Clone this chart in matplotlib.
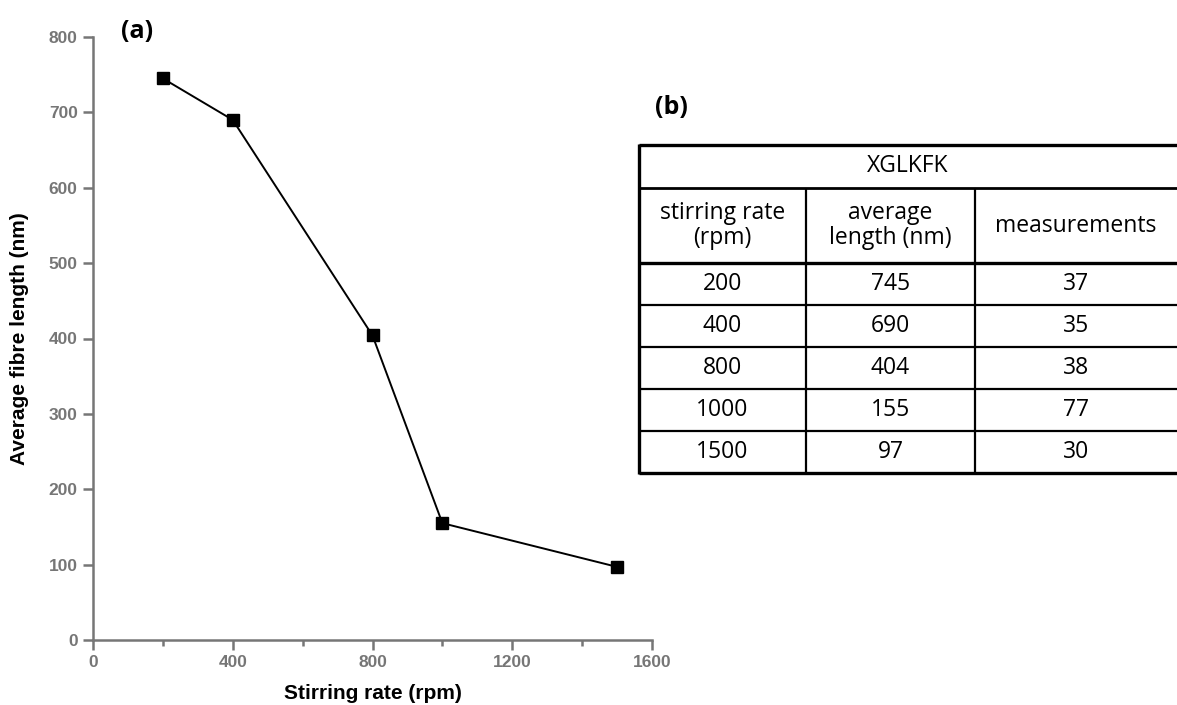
import matplotlib
matplotlib.use("Agg")
import matplotlib.pyplot as plt
from matplotlib.lines import Line2D

# ---- data ----
stirring_rate = [200, 400, 800, 1000, 1500]
avg_length = [745, 690, 404, 155, 97]
measurements = [37, 35, 38, 77, 30]
x_ticks = [0, 400, 800, 1200, 1600]
y_ticks = [0, 100, 200, 300, 400, 500, 600, 700, 800]
table_title = "XGLKFK"
col_headers = ["stirring rate\n(rpm)", "average\nlength (nm)", "measurements"]

W, H = 1177, 705
fig = plt.figure(figsize=(W / 100, H / 100), dpi=100)

gray = "#767676"
ax = fig.add_axes([93 / W, (H - 640) / H, (652 - 93) / W, (640 - 37) / H])
ax.plot(stirring_rate, avg_length, color="black", lw=1.4, marker="s",
        markersize=8, markerfacecolor="black", markeredgecolor="black",
        clip_on=False)
ax.set_xlim(0, 1600)
ax.set_ylim(0, 800)
ax.set_xticks(x_ticks)
ax.set_xticks([200, 600, 1000, 1400], minor=True)
ax.set_yticks(y_ticks)
for s in ["top", "right"]:
    ax.spines[s].set_visible(False)
for s in ["left", "bottom"]:
    ax.spines[s].set_color(gray)
    ax.spines[s].set_linewidth(1.8)
ax.tick_params(axis="both", which="major", direction="out", length=7, width=1.8,
               color=gray, labelcolor=gray, labelsize=12.5, pad=4)
ax.tick_params(axis="x", which="minor", direction="out", length=4, width=1.8, color=gray)
for lab in ax.get_xticklabels() + ax.get_yticklabels():
    lab.set_fontfamily("Liberation Sans")
    lab.set_fontweight("bold")
ax.set_xlabel("Stirring rate (rpm)", fontfamily="Liberation Sans", fontweight="bold",
              fontsize=15, labelpad=10)
ax.set_ylabel("Average fibre length (nm)", fontfamily="Liberation Sans", fontweight="bold",
              fontsize=15, labelpad=14)

fig.text(121 / W, 1 - 32 / H, "(a)", fontsize=18, fontweight="bold",
         fontfamily="Open Sans", ha="left", va="center")
fig.text(655 / W, 1 - 107 / H, "(b)", fontsize=18, fontweight="bold",
         fontfamily="Open Sans", ha="left", va="center")

# ---- table in pixel coordinates ----
tax = fig.add_axes([0, 0, 1, 1], zorder=5)
tax.set_xlim(0, W)
tax.set_ylim(H, 0)
tax.axis("off")

x0, x1, x2, x3 = 639, 806, 975, 1177
y_top, y_h1, y_h2 = 145, 188, 263
row_h = (473 - 263) / len(stirring_rate)
y_bottom = y_h2 + row_h * len(stirring_rate)

def hline(y, lw):
    tax.add_line(Line2D([x0, x3], [y, y], color="black", lw=lw, solid_capstyle="butt"))

def vline(x, ya, yb, lw):
    tax.add_line(Line2D([x, x], [ya, yb], color="black", lw=lw, solid_capstyle="butt"))

hline(y_top, 2.4)
hline(y_h1, 2.0)
hline(y_h2, 2.4)
for i in range(1, len(stirring_rate)):
    hline(y_h2 + i * row_h, 1.6)
hline(y_bottom, 2.4)
vline(x0, y_top - 1, y_bottom + 1, 2.4)
vline(x1, y_h1, y_bottom, 1.6)
vline(x2, y_h1, y_bottom, 1.6)

tfont = dict(fontfamily="Open Sans", fontsize=16.5, ha="center", va="center",
             linespacing=1.05)
cx = [(x0 + x1) / 2, (x1 + x2) / 2, (x2 + x3) / 2]
tax.text((x0 + x3) / 2, (y_top + y_h1) / 2, table_title, **tfont)
for c, h in zip(cx, col_headers):
    tax.text(c, (y_h1 + y_h2) / 2, h, **tfont)
for i, (r, l, m) in enumerate(zip(stirring_rate, avg_length, measurements)):
    yc = y_h2 + (i + 0.5) * row_h
    for c, v in zip(cx, [r, l, m]):
        tax.text(c, yc, str(v), **tfont)

fig.savefig("out.png", dpi=100)
